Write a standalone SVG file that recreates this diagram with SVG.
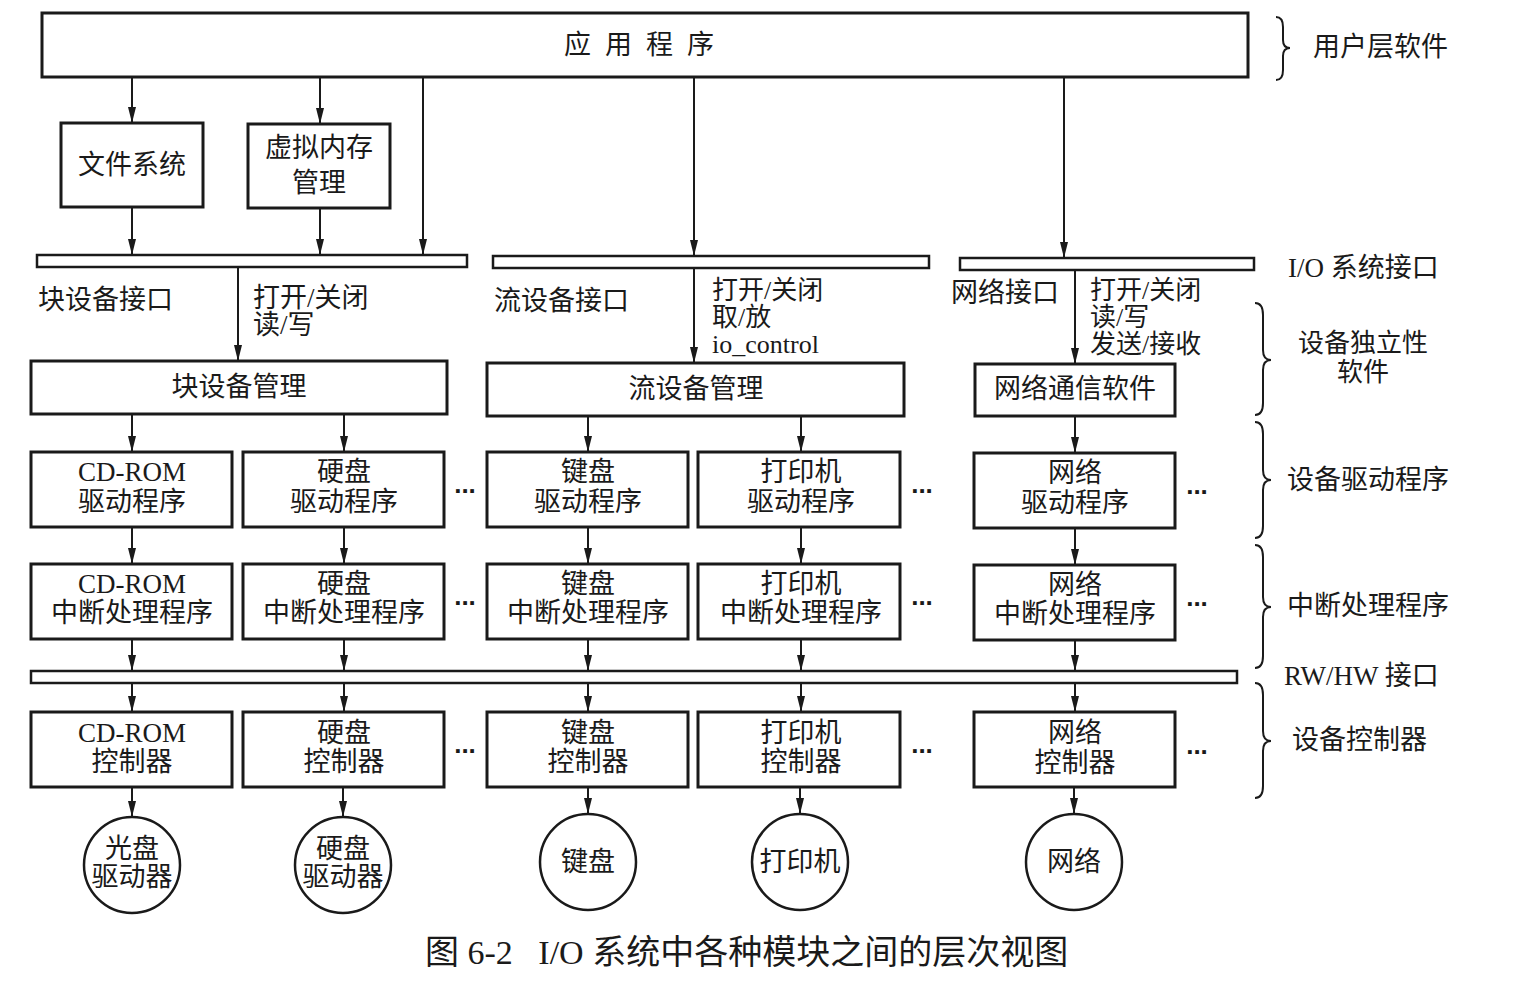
<svg xmlns="http://www.w3.org/2000/svg" width="1534" height="983" viewBox="0 0 1534 983">
<style>
  .box{fill:#fff;stroke:#1a1a1a;stroke-width:3}
  .bar{fill:#fff;stroke:#1a1a1a;stroke-width:2.5}
  .ln{stroke:#1a1a1a;stroke-width:2;fill:none}
  .br{stroke:#1a1a1a;stroke-width:2;fill:none}
  text{font-family:"Liberation Serif","Noto Sans CJK SC",serif;font-size:27px;fill:#1a1a1a;dominant-baseline:central}
  .c{text-anchor:middle}
  .cap{font-size:34px}
  .sm{font-size:26px}
  .dots{font-family:"Liberation Sans",sans-serif;font-size:26px;font-weight:bold}
</style>
<defs>
  <marker id="ah2" viewBox="0 0 16 10" markerWidth="16" markerHeight="10" refX="16" refY="5" orient="auto" markerUnits="userSpaceOnUse">
    <path d="M0,1 L16,5 L0,9 Z" fill="#1a1a1a"/>
  </marker>
</defs>
<rect width="1534" height="983" fill="#fff"/>

<g id="connectors">
  <g style="marker-end:url(#ah2)" class="ln">
    <line x1="132" y1="78" x2="132" y2="123"/>
    <line x1="320" y1="78" x2="320" y2="124"/>
    <line x1="423" y1="78" x2="423" y2="255"/>
    <line x1="694" y1="78" x2="694" y2="256"/>
    <line x1="1064" y1="78" x2="1064" y2="258"/>
    <line x1="132" y1="207" x2="132" y2="255"/>
    <line x1="320" y1="208" x2="320" y2="255"/>
    <line x1="238" y1="267" x2="238" y2="361"/>
    <line x1="694" y1="268" x2="694" y2="363"/>
    <line x1="1075" y1="270" x2="1075" y2="364"/>
    <line x1="132" y1="414" x2="132" y2="452"/>
    <line x1="344" y1="414" x2="344" y2="452"/>
    <line x1="588" y1="416" x2="588" y2="452"/>
    <line x1="801" y1="416" x2="801" y2="452"/>
    <line x1="1075" y1="416" x2="1075" y2="453"/>
    <line x1="132" y1="527" x2="132" y2="564"/>
    <line x1="344" y1="527" x2="344" y2="564"/>
    <line x1="588" y1="527" x2="588" y2="564"/>
    <line x1="801" y1="527" x2="801" y2="564"/>
    <line x1="1075" y1="528" x2="1075" y2="565"/>
    <line x1="132" y1="639" x2="132" y2="671"/>
    <line x1="344" y1="639" x2="344" y2="671"/>
    <line x1="588" y1="639" x2="588" y2="671"/>
    <line x1="801" y1="639" x2="801" y2="671"/>
    <line x1="1075" y1="640" x2="1075" y2="671"/>
    <line x1="132" y1="683" x2="132" y2="712"/>
    <line x1="344" y1="683" x2="344" y2="712"/>
    <line x1="588" y1="683" x2="588" y2="712"/>
    <line x1="801" y1="683" x2="801" y2="712"/>
    <line x1="1075" y1="683" x2="1075" y2="712"/>
    <line x1="132" y1="787" x2="132" y2="817"/>
    <line x1="343" y1="787" x2="343" y2="817"/>
    <line x1="588" y1="787" x2="588" y2="814"/>
    <line x1="800" y1="787" x2="800" y2="814"/>
    <line x1="1074" y1="787" x2="1074" y2="814"/>
  </g>
</g>

<g id="app"><rect class="box" x="42" y="13" width="1206" height="64"/><text x="646" y="45" class="c" style="letter-spacing:14px">应用程序</text></g>
<g id="fs"><rect class="box" x="61" y="123" width="142" height="84"/><text x="132" y="165" class="c">文件系统</text></g>
<g id="vm"><rect class="box" x="248" y="124" width="142" height="84"/><text x="319" y="148" class="c">虚拟内存</text><text x="319" y="183" class="c">管理</text></g>

<g id="bar-block"><rect class="bar" x="37" y="255" width="430" height="12"/></g>
<g id="bar-stream"><rect class="bar" x="493" y="256" width="436" height="12"/></g>
<g id="bar-net"><rect class="bar" x="960" y="258" width="294" height="12"/></g>

<g id="lbl-block"><text x="38" y="300">块设备接口</text><text x="253" y="298">打开/关闭</text><text x="253" y="325">读/写</text></g>
<g id="lbl-stream"><text x="494" y="301">流设备接口</text><text x="712" y="290" class="sm">打开/关闭</text><text x="712" y="317" class="sm">取/放</text><text x="712" y="344" class="sm">io_control</text></g>
<g id="lbl-net"><text x="951" y="293">网络接口</text><text x="1090" y="290" class="sm">打开/关闭</text><text x="1090" y="317" class="sm">读/写</text><text x="1090" y="344" class="sm">发送/接收</text></g>

<g id="blockmgr"><rect class="box" x="31" y="361" width="416" height="53"/><text x="239" y="387" class="c">块设备管理</text></g>
<g id="streammgr"><rect class="box" x="487" y="363" width="417" height="53"/><text x="696" y="389" class="c">流设备管理</text></g>
<g id="netsw"><rect class="box" x="975" y="364" width="200" height="52"/><text x="1075" y="389" class="c">网络通信软件</text></g>

<g id="drv-cd"><rect class="box" x="31" y="452" width="201" height="75"/><text x="132" y="472" class="c">CD-ROM</text><text x="132" y="502" class="c">驱动程序</text></g>
<g id="drv-hd"><rect class="box" x="243" y="452" width="201" height="75"/><text x="344" y="472" class="c">硬盘</text><text x="344" y="502" class="c">驱动程序</text></g>
<g id="drv-kb"><rect class="box" x="487" y="452" width="201" height="75"/><text x="588" y="472" class="c">键盘</text><text x="588" y="502" class="c">驱动程序</text></g>
<g id="drv-pr"><rect class="box" x="698" y="452" width="202" height="75"/><text x="801" y="472" class="c">打印机</text><text x="801" y="502" class="c">驱动程序</text></g>
<g id="drv-net"><rect class="box" x="974" y="453" width="201" height="75"/><text x="1075" y="473" class="c">网络</text><text x="1075" y="503" class="c">驱动程序</text></g>

<g id="int-cd"><rect class="box" x="31" y="564" width="201" height="75"/><text x="132" y="584" class="c">CD-ROM</text><text x="132" y="613" class="c">中断处理程序</text></g>
<g id="int-hd"><rect class="box" x="243" y="564" width="201" height="75"/><text x="344" y="584" class="c">硬盘</text><text x="344" y="613" class="c">中断处理程序</text></g>
<g id="int-kb"><rect class="box" x="487" y="564" width="201" height="75"/><text x="588" y="584" class="c">键盘</text><text x="588" y="613" class="c">中断处理程序</text></g>
<g id="int-pr"><rect class="box" x="698" y="564" width="202" height="75"/><text x="801" y="584" class="c">打印机</text><text x="801" y="613" class="c">中断处理程序</text></g>
<g id="int-net"><rect class="box" x="974" y="565" width="201" height="75"/><text x="1075" y="585" class="c">网络</text><text x="1075" y="614" class="c">中断处理程序</text></g>

<g id="bar-rwhw"><rect class="bar" x="31" y="671" width="1206" height="12"/></g>

<g id="ctl-cd"><rect class="box" x="31" y="712" width="201" height="75"/><text x="132" y="733" class="c">CD-ROM</text><text x="132" y="762" class="c">控制器</text></g>
<g id="ctl-hd"><rect class="box" x="243" y="712" width="201" height="75"/><text x="344" y="733" class="c">硬盘</text><text x="344" y="762" class="c">控制器</text></g>
<g id="ctl-kb"><rect class="box" x="487" y="712" width="201" height="75"/><text x="588" y="733" class="c">键盘</text><text x="588" y="762" class="c">控制器</text></g>
<g id="ctl-pr"><rect class="box" x="698" y="712" width="202" height="75"/><text x="801" y="733" class="c">打印机</text><text x="801" y="762" class="c">控制器</text></g>
<g id="ctl-net"><rect class="box" x="974" y="712" width="201" height="75"/><text x="1075" y="733" class="c">网络</text><text x="1075" y="763" class="c">控制器</text></g>

<g id="dev-cd"><circle class="box" cx="132" cy="865" r="48" style="stroke-width:2.5"/><text x="132" y="849" class="c">光盘</text><text x="132" y="877" class="c">驱动器</text></g>
<g id="dev-hd"><circle class="box" cx="343" cy="865" r="48" style="stroke-width:2.5"/><text x="343" y="849" class="c">硬盘</text><text x="343" y="877" class="c">驱动器</text></g>
<g id="dev-kb"><circle class="box" cx="588" cy="862" r="48" style="stroke-width:2.5"/><text x="588" y="862" class="c">键盘</text></g>
<g id="dev-pr"><circle class="box" cx="800" cy="862" r="48" style="stroke-width:2.5"/><text x="800" y="862" class="c">打印机</text></g>
<g id="dev-net"><circle class="box" cx="1074" cy="862" r="48" style="stroke-width:2.5"/><text x="1074" y="862" class="c">网络</text></g>

<g id="ellipses">
  <text x="465" y="484" class="c dots">...</text>
  <text x="922" y="484" class="c dots">...</text>
  <text x="1197" y="485" class="c dots">...</text>
  <text x="465" y="596" class="c dots">...</text>
  <text x="922" y="596" class="c dots">...</text>
  <text x="1197" y="597" class="c dots">...</text>
  <text x="465" y="744" class="c dots">...</text>
  <text x="922" y="744" class="c dots">...</text>
  <text x="1197" y="745" class="c dots">...</text>
</g>

<g id="layers">
  <path class="br" d="M1276,17 Q1283,17 1283,27 L1283,40 Q1283,48 1290,48 Q1283,48 1283,56 L1283,70 Q1283,80 1276,80"/>
  <text x="1313" y="47">用户层软件</text>
  <text x="1288" y="268">I/O 系统接口</text>
  <path class="br" d="M1255,303 Q1263,303 1263,315 L1263,350 Q1263,360 1271,360 Q1263,360 1263,370 L1263,403 Q1263,415 1255,415"/>
  <text x="1363" y="343" class="c sm">设备独立性</text>
  <text x="1363" y="372" class="c sm">软件</text>
  <path class="br" d="M1255,422 Q1263,422 1263,434 L1263,470 Q1263,480 1271,480 Q1263,480 1263,490 L1263,526 Q1263,538 1255,538"/>
  <text x="1287" y="480">设备驱动程序</text>
  <path class="br" d="M1255,545 Q1263,545 1263,557 L1263,597 Q1263,607 1271,607 Q1263,607 1263,617 L1263,656 Q1263,668 1255,668"/>
  <text x="1287" y="606">中断处理程序</text>
  <text x="1284" y="676">RW/HW 接口</text>
  <path class="br" d="M1255,683 Q1263,683 1263,695 L1263,731 Q1263,741 1271,741 Q1263,741 1263,751 L1263,786 Q1263,798 1255,798"/>
  <text x="1292" y="740">设备控制器</text>
</g>

<g id="caption"><text x="425" y="952" class="cap" xml:space="preserve">图 6-2   I/O 系统中各种模块之间的层次视图</text></g>
</svg>
